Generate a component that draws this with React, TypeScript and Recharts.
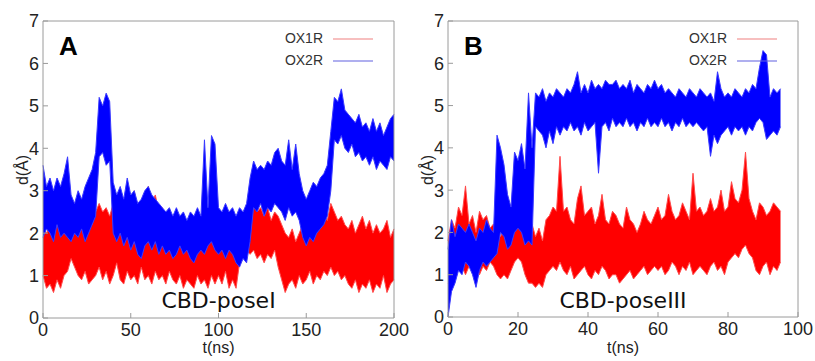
import { ComposedChart, Area, XAxis, YAxis } from 'recharts';

// panel A: t(ns) every 2 ns, [min, max] envelope of the distance trace
const timeA = [
  0, 2, 4, 6, 8, 10, 12, 14, 16, 18, 20, 22, 24, 26, 28, 30, 32, 34, 36, 38,
  40, 42, 44, 46, 48, 50, 52, 54, 56, 58, 60, 62, 64, 66, 68, 70, 72, 74, 76, 78,
  80, 82, 84, 86, 88, 90, 92, 94, 96, 98, 100, 102, 104, 106, 108, 110, 112, 114, 116, 118,
  120, 122, 124, 126, 128, 130, 132, 134, 136, 138, 140, 142, 144, 146, 148, 150, 152, 154, 156, 158,
  160, 162, 164, 166, 168, 170, 172, 174, 176, 178, 180, 182, 184, 186, 188, 190, 192, 194, 196, 198, 200,
];

const ox1rA = [
  [1.0, 2.1], [0.7, 2.0], [0.8, 2.2], [0.6, 1.9], [0.9, 2.3], [0.7, 2.0], [1.0, 2.4], [1.1, 3.5], [1.4, 2.1], [1.2, 2.3],
  [1.0, 2.0], [0.9, 2.4], [1.1, 2.1], [0.8, 2.3], [0.9, 2.2], [1.0, 2.5], [1.2, 2.7], [0.9, 2.5], [1.1, 2.6], [0.8, 2.4],
  [1.0, 2.7], [1.3, 2.6], [0.9, 2.8], [0.8, 2.5], [1.1, 2.9], [0.9, 2.6], [1.0, 3.0], [0.8, 2.5], [1.2, 2.7], [0.9, 2.6],
  [1.0, 3.1], [0.8, 2.7], [1.1, 2.9], [0.9, 2.5], [1.0, 2.6], [0.8, 2.3], [1.1, 2.5], [0.9, 2.2], [0.8, 2.4], [1.0, 2.1],
  [0.7, 2.3], [0.9, 2.0], [0.8, 2.4], [0.7, 2.2], [1.0, 2.0], [0.8, 2.3], [0.9, 2.1], [0.7, 2.4], [1.0, 2.2], [0.8, 2.0],
  [1.0, 2.3], [0.8, 2.1], [1.1, 2.2], [0.7, 2.0], [0.9, 2.3], [0.7, 2.1], [1.3, 2.2], [1.6, 2.3], [1.6, 2.5], [1.5, 2.6],
  [1.6, 2.7], [1.4, 2.5], [1.5, 2.6], [1.3, 2.4], [1.5, 2.6], [1.4, 2.3], [1.6, 2.5], [1.2, 2.4], [0.9, 2.2], [0.6, 2.0],
  [0.8, 1.9], [0.9, 2.1], [0.7, 1.8], [1.0, 2.0], [0.8, 2.2], [0.9, 1.9], [1.1, 2.1], [0.8, 2.0], [1.0, 2.3], [0.9, 2.2],
  [1.1, 2.4], [1.0, 2.3], [1.2, 2.7], [1.0, 2.5], [1.1, 2.3], [0.9, 2.4], [1.0, 2.2], [0.8, 2.1], [0.7, 2.3], [0.9, 2.0],
  [0.6, 2.2], [0.8, 2.4], [0.7, 2.1], [0.9, 2.3], [0.6, 2.0], [0.8, 2.2], [0.7, 2.0], [1.0, 2.1], [0.6, 2.3], [0.8, 1.9], [0.9, 2.1],
];

const ox2rA = [
  [1.9, 3.6], [2.1, 3.1], [2.0, 3.3], [1.8, 3.0], [2.2, 3.3], [1.9, 3.1], [2.0, 3.4], [1.9, 3.8], [1.8, 2.9], [2.0, 2.7],
  [1.9, 3.0], [2.1, 2.8], [1.8, 3.1], [2.0, 3.3], [2.2, 3.5], [2.4, 3.9], [3.8, 5.2], [3.9, 5.0], [3.6, 5.3], [3.7, 5.1],
  [2.0, 3.2], [1.8, 2.9], [2.0, 3.1], [1.7, 2.8], [1.9, 3.3], [1.6, 2.9], [1.8, 3.0], [1.5, 2.7], [1.4, 2.8], [1.7, 3.0],
  [1.8, 3.1], [1.6, 2.9], [1.8, 2.8], [1.5, 2.7], [1.7, 2.6], [1.5, 2.5], [1.6, 2.6], [1.4, 2.4], [1.5, 2.6], [1.7, 2.4],
  [1.5, 2.5], [1.6, 2.3], [1.4, 2.5], [1.3, 2.4], [1.5, 2.6], [1.6, 2.4], [1.5, 4.2], [1.7, 2.6], [1.8, 4.3], [1.6, 4.1],
  [1.5, 2.6], [1.6, 2.5], [1.4, 2.7], [1.6, 2.5], [1.5, 2.6], [1.3, 2.4], [1.2, 2.6], [1.4, 2.5], [1.3, 2.7], [1.8, 3.3],
  [2.6, 3.7], [2.5, 3.5], [2.7, 3.6], [2.4, 3.5], [2.6, 3.7], [2.5, 3.6], [2.7, 3.9], [2.6, 4.0], [2.5, 3.7], [2.3, 3.6],
  [2.6, 4.2], [2.4, 3.5], [2.5, 4.1], [2.3, 3.4], [1.9, 3.0], [1.7, 2.8], [1.9, 3.0], [1.8, 3.2], [2.0, 3.1], [2.1, 3.3],
  [2.2, 3.4], [2.4, 3.6], [3.0, 4.4], [4.2, 5.2], [4.1, 5.1], [4.3, 5.4], [4.0, 4.9], [3.9, 4.8], [4.1, 4.7], [3.8, 4.6],
  [3.9, 4.8], [3.7, 4.5], [3.8, 4.6], [3.6, 4.4], [3.8, 4.7], [3.5, 4.4], [3.7, 4.6], [3.6, 4.3], [3.5, 4.5], [3.8, 4.7], [3.7, 4.8],
];

// panel B: t(ns) every 1 ns
const timeB = [
  0, 1, 2, 3, 4, 5, 6, 7, 8, 9, 10, 11, 12, 13, 14, 15, 16, 17, 18, 19,
  20, 21, 22, 23, 24, 25, 26, 27, 28, 29, 30, 31, 32, 33, 34, 35, 36, 37, 38, 39,
  40, 41, 42, 43, 44, 45, 46, 47, 48, 49, 50, 51, 52, 53, 54, 55, 56, 57, 58, 59,
  60, 61, 62, 63, 64, 65, 66, 67, 68, 69, 70, 71, 72, 73, 74, 75, 76, 77, 78, 79,
  80, 81, 82, 83, 84, 85, 86, 87, 88, 89, 90, 91, 92, 93, 94, 95,
];

const ox1rB = [
  [0.8, 1.8], [0.9, 2.3], [1.0, 2.1], [1.1, 2.6], [1.2, 2.4], [1.0, 3.1], [1.2, 2.2], [1.1, 2.4], [1.3, 2.0], [1.0, 2.5],
  [1.2, 2.3], [1.1, 2.4], [1.3, 2.1], [1.2, 2.2], [1.0, 2.0], [0.9, 1.9], [1.0, 2.1], [0.9, 1.8], [1.1, 2.0], [1.3, 2.4],
  [1.4, 2.6], [1.3, 2.2], [1.0, 2.1], [0.8, 2.0], [0.8, 2.2], [0.7, 1.9], [0.8, 2.1], [0.7, 1.8], [1.0, 2.3], [1.1, 2.4],
  [1.2, 2.6], [1.1, 2.5], [1.3, 3.8], [1.1, 2.5], [1.0, 2.6], [1.2, 2.3], [0.9, 2.2], [1.0, 2.8], [1.1, 3.1], [1.2, 2.4],
  [1.0, 2.5], [0.9, 2.6], [1.1, 2.2], [1.0, 2.4], [1.2, 2.9], [1.1, 2.3], [0.9, 2.2], [1.0, 2.5], [1.0, 2.4], [0.8, 2.2],
  [0.9, 2.1], [1.0, 2.6], [1.1, 2.3], [0.9, 2.2], [1.0, 2.0], [1.1, 2.2], [1.2, 2.5], [1.0, 2.3], [1.1, 2.2], [1.2, 2.4],
  [1.1, 2.6], [1.2, 2.3], [1.0, 2.4], [1.1, 2.9], [1.3, 2.5], [1.2, 2.3], [1.0, 2.4], [1.2, 2.7], [1.1, 2.5], [1.3, 2.3],
  [1.0, 3.4], [1.1, 2.5], [1.2, 2.6], [1.1, 2.4], [1.0, 2.5], [1.2, 2.8], [1.3, 2.5], [1.1, 2.6], [1.2, 3.0], [1.0, 2.5],
  [1.3, 2.6], [1.4, 3.2], [1.5, 2.8], [1.4, 2.7], [1.6, 3.0], [1.7, 3.9], [1.5, 2.8], [1.4, 2.5], [1.1, 2.3], [1.0, 2.7],
  [1.2, 2.6], [1.3, 2.4], [1.0, 2.5], [1.2, 2.7], [1.1, 2.6], [1.3, 2.5],
];

const ox2rB = [
  [0.0, 1.6], [0.6, 2.3], [0.8, 1.9], [1.1, 2.2], [1.0, 2.1], [1.3, 2.0], [1.2, 2.2], [1.0, 2.0], [0.7, 1.8], [1.1, 2.1],
  [1.3, 2.0], [1.2, 2.3], [1.3, 2.1], [1.4, 2.0], [1.5, 4.3], [2.0, 4.0], [1.9, 3.6], [1.6, 2.9], [1.7, 2.6], [2.0, 3.9],
  [2.1, 3.7], [2.0, 4.1], [1.7, 3.5], [1.8, 5.3], [1.7, 4.0], [4.5, 5.3], [4.4, 5.2], [4.3, 5.4], [4.0, 5.1], [4.4, 5.3],
  [4.1, 5.2], [4.5, 5.4], [4.3, 5.3], [4.5, 5.2], [4.4, 5.4], [4.6, 5.3], [4.4, 5.5], [4.5, 5.8], [4.3, 5.3], [4.6, 5.5],
  [4.4, 5.3], [4.5, 5.6], [4.6, 5.4], [3.4, 5.5], [4.5, 5.4], [4.6, 5.6], [4.4, 5.5], [4.7, 5.5], [4.5, 5.6], [4.6, 5.4],
  [4.5, 5.5], [4.7, 5.4], [4.5, 5.6], [4.6, 5.3], [4.4, 5.5], [4.6, 5.4], [4.5, 5.3], [4.7, 5.5], [4.5, 5.4], [4.6, 5.6],
  [4.5, 5.4], [4.7, 5.5], [4.5, 5.3], [4.6, 5.4], [4.4, 5.3], [4.6, 5.2], [4.5, 5.4], [4.7, 5.3], [4.5, 5.2], [4.6, 5.4],
  [4.5, 5.3], [4.6, 5.2], [4.5, 5.4], [4.4, 5.3], [4.5, 5.2], [3.8, 5.3], [4.3, 5.1], [4.1, 5.8], [4.3, 5.4], [4.4, 5.2],
  [4.5, 5.3], [4.3, 5.2], [4.5, 5.4], [4.4, 5.3], [4.5, 5.2], [4.3, 5.4], [4.5, 5.3], [4.4, 5.5], [4.6, 5.4], [4.7, 5.9],
  [4.6, 6.3], [4.2, 6.2], [4.3, 5.2], [4.4, 5.4], [4.3, 5.3], [4.5, 5.4],
];

const yTicks = [0, 1, 2, 3, 4, 5, 6, 7];
const xTicksA = [0, 50, 100, 150, 200];
const xTicksB = [0, 20, 40, 60, 80, 100];

const RED = '#ff0000';
const BLUE = '#0000ff';
const FRAME = '#9a9a9a';
const SANS = '"Liberation Sans", Arial, sans-serif';

interface PanelProps {
  left: number;
  rightMargin: number;
  bottomAxis: number;
  time: number[];
  ox1r: number[][];
  ox2r: number[][];
  xTicks: number[];
  xMax: number;
  letter: string;
  pose: string;
}

const Panel = ({ left, rightMargin, bottomAxis, time, ox1r, ox2r, xTicks, xMax, letter, pose }: PanelProps) => {
  const rows = time.map((t, i) => ({ t, ox1r: ox1r[i], ox2r: ox2r[i] }));
  const plotLeft = 43;
  const plotRight = 410 - rightMargin - 1;
  const mid = (plotLeft + plotRight) / 2;

  return (
    <div style={{ position: 'absolute', left, top: 0, width: 410, height: 361 }}>
      <ComposedChart
        width={410}
        height={361}
        data={rows}
        margin={{ top: 20, right: rightMargin, bottom: 0, left: 0 }}
      >
        <XAxis
          dataKey="t"
          type="number"
          domain={[0, xMax]}
          ticks={xTicks}
          interval={0}
          height={bottomAxis}
          tickSize={-5}
          tickMargin={10}
          stroke={FRAME}
          tick={{ fill: '#222', fontSize: 18, fontFamily: SANS }}
        />
        <XAxis
          xAxisId="top"
          orientation="top"
          type="number"
          domain={[0, xMax]}
          ticks={xTicks}
          interval={0}
          height={1}
          tickSize={-5}
          tick={false}
          stroke={FRAME}
        />
        <YAxis
          type="number"
          domain={[0, 7]}
          ticks={yTicks}
          interval={0}
          width={43}
          tickSize={-5}
          tickMargin={9}
          stroke={FRAME}
          tick={{ fill: '#222', fontSize: 18, fontFamily: SANS }}
        />
        <YAxis
          yAxisId="r"
          orientation="right"
          type="number"
          domain={[0, 7]}
          ticks={yTicks}
          interval={0}
          width={1}
          tickSize={-5}
          tick={false}
          stroke={FRAME}
        />
        <Area
          type="linear"
          dataKey="ox1r"
          stroke="#ff4a4a"
          strokeWidth={1}
          fill={RED}
          fillOpacity={1}
          dot={false}
          activeDot={false}
          isAnimationActive={false}
        />
        <Area
          type="linear"
          dataKey="ox2r"
          stroke="#3a3aff"
          strokeWidth={1}
          fill={BLUE}
          fillOpacity={1}
          dot={false}
          activeDot={false}
          isAnimationActive={false}
        />
      </ComposedChart>
      <svg
        width={410}
        height={361}
        style={{ position: 'absolute', left: 0, top: 0, pointerEvents: 'none' }}
      >
        <text x={59} y={55} fontFamily={SANS} fontWeight="bold" fontSize={26} fill="#000">
          {letter}
        </text>
        <text x={plotRight - 71} y={43} textAnchor="end" fontFamily={SANS} fontSize={14} fill="#333">
          OX1R
        </text>
        <line x1={plotRight - 61} x2={plotRight - 21} y1={39} y2={39} stroke="#f08080" strokeWidth={1.2} />
        <text x={plotRight - 71} y={65} textAnchor="end" fontFamily={SANS} fontSize={14} fill="#333">
          OX2R
        </text>
        <line x1={plotRight - 61} x2={plotRight - 21} y1={61} y2={61} stroke="#6060e0" strokeWidth={1.2} />
        <text x={mid} y={308} textAnchor="middle" fontFamily='"DejaVu Sans", sans-serif' fontSize={22} fill="#111">
          {pose}
        </text>
        <text x={mid} y={353} textAnchor="middle" fontFamily={SANS} fontSize={16} fill="#222">
          t(ns)
        </text>
        <text
          x={0}
          y={0}
          transform="translate(28, 170) rotate(-90)"
          textAnchor="middle"
          fontFamily={SANS}
          fontSize={16}
          fill="#222"
        >
          d(Å)
        </text>
      </svg>
    </div>
  );
};

export default function App() {
  return (
    <div style={{ position: 'absolute', left: 0, top: 0, width: 815, height: 361, background: '#fff' }}>
      <Panel
        left={0}
        rightMargin={15}
        bottomAxis={43}
        time={timeA}
        ox1r={ox1rA}
        ox2r={ox2rA}
        xTicks={xTicksA}
        xMax={200}
        letter="A"
        pose="CBD-poseI"
      />
      <Panel
        left={405}
        rightMargin={16}
        bottomAxis={44}
        time={timeB}
        ox1r={ox1rB}
        ox2r={ox2rB}
        xTicks={xTicksB}
        xMax={100}
        letter="B"
        pose="CBD-poseIII"
      />
    </div>
  );
}
